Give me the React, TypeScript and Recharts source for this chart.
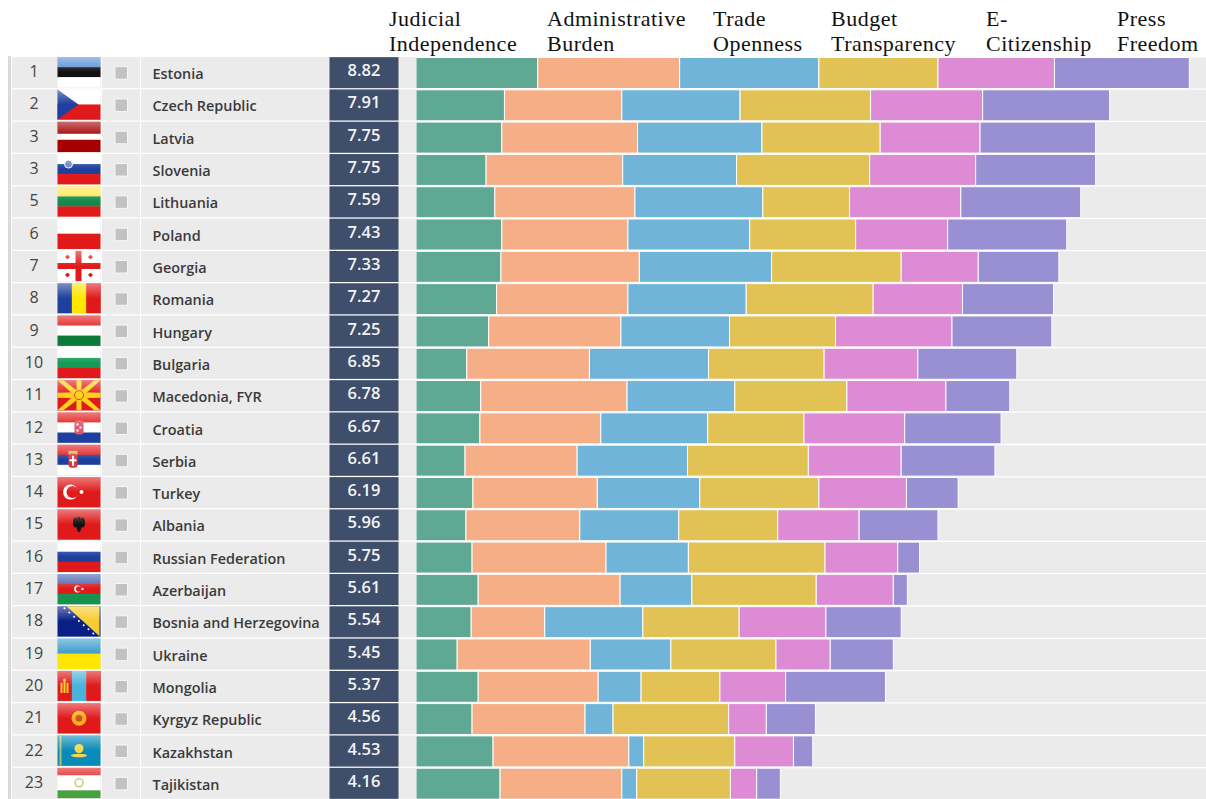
import { BarChart, Bar, XAxis, YAxis } from "recharts";

const countries = [
  "Estonia", "Czech Republic", "Latvia", "Slovenia", "Lithuania", "Poland", "Georgia", "Romania",
  "Hungary", "Bulgaria", "Macedonia, FYR", "Croatia", "Serbia", "Turkey", "Albania", "Russian Federation",
  "Azerbaijan", "Bosnia and Herzegovina", "Ukraine", "Mongolia", "Kyrgyz Republic", "Kazakhstan", "Tajikistan",
];
const ranks = [1, 2, 3, 3, 5, 6, 7, 8, 9, 10, 11, 12, 13, 14, 15, 16, 17, 18, 19, 20, 21, 22, 23];
const scores = [
  "8.82", "7.91", "7.75", "7.75", "7.59", "7.43", "7.33", "7.27", "7.25", "6.85", "6.78", "6.67",
  "6.61", "6.19", "5.96", "5.75", "5.61", "5.54", "5.45", "5.37", "4.56", "4.53", "4.16",
];

const judicial = [1.39, 1.01, 0.98, 0.8, 0.9, 0.98, 0.97, 0.92, 0.83, 0.58, 0.74, 0.73, 0.56, 0.65, 0.57, 0.64, 0.71, 0.63, 0.47, 0.71, 0.64, 0.88, 0.96];
const admin = [1.62, 1.34, 1.55, 1.56, 1.6, 1.44, 1.58, 1.5, 1.51, 1.4, 1.67, 1.38, 1.28, 1.42, 1.3, 1.53, 1.62, 0.84, 1.52, 1.37, 1.29, 1.55, 1.39];
const trade = [1.59, 1.35, 1.42, 1.3, 1.46, 1.39, 1.51, 1.35, 1.24, 1.36, 1.23, 1.22, 1.26, 1.17, 1.13, 0.94, 0.82, 1.12, 0.92, 0.49, 0.32, 0.17, 0.17];
const budget = [1.36, 1.49, 1.35, 1.52, 0.99, 1.21, 1.48, 1.45, 1.21, 1.32, 1.28, 1.1, 1.38, 1.36, 1.13, 1.56, 1.42, 1.1, 1.2, 0.9, 1.32, 1.04, 1.07];
const citizen = [1.33, 1.28, 1.14, 1.21, 1.27, 1.05, 0.88, 1.02, 1.33, 1.07, 1.13, 1.15, 1.06, 1.0, 0.93, 0.83, 0.88, 0.99, 0.62, 0.75, 0.43, 0.67, 0.3];
const press = [1.54, 1.45, 1.32, 1.37, 1.37, 1.36, 0.92, 1.04, 1.14, 1.13, 0.73, 1.1, 1.07, 0.59, 0.9, 0.25, 0.16, 0.86, 0.72, 1.14, 0.56, 0.22, 0.27];

const data = countries.map((name, i) => ({
  name,
  judicial: judicial[i],
  admin: admin[i],
  trade: trade[i],
  budget: budget[i],
  citizen: citizen[i],
  press: press[i],
}));

const RED = "#e01a1a";
const BLUE = "#1f3f9f";
const GREEN = "#138a4a";
const YELLOW = "#ffe600";

// stripes top to bottom, or left to right for the "v" ones
const flagStripes: Record<string, { dir: "h" | "v"; colors: string[] }> = {
  Estonia: { dir: "h", colors: ["#5b8dd6", "#111111", "#ffffff"] },
  "Czech Republic": { dir: "h", colors: ["#ffffff", RED] },
  Latvia: { dir: "h", colors: ["#a50000", "#a50000", "#ffffff", "#a50000", "#a50000"] },
  Slovenia: { dir: "h", colors: ["#ffffff", BLUE, RED] },
  Lithuania: { dir: "h", colors: ["#ffe94a", GREEN, RED] },
  Poland: { dir: "h", colors: ["#ffffff", RED] },
  Georgia: { dir: "h", colors: ["#ffffff"] },
  Romania: { dir: "v", colors: [BLUE, YELLOW, RED] },
  Hungary: { dir: "h", colors: [RED, "#ffffff", "#0c7a38"] },
  Bulgaria: { dir: "h", colors: ["#ffffff", "#159a5a", RED] },
  "Macedonia, FYR": { dir: "h", colors: [RED] },
  Croatia: { dir: "h", colors: [RED, "#ffffff", BLUE] },
  Serbia: { dir: "h", colors: [RED, BLUE, "#ffffff"] },
  Turkey: { dir: "h", colors: [RED] },
  Albania: { dir: "h", colors: [RED] },
  "Russian Federation": { dir: "h", colors: ["#ffffff", BLUE, RED] },
  Azerbaijan: { dir: "h", colors: ["#4a62b0", RED, "#16924f"] },
  "Bosnia and Herzegovina": { dir: "h", colors: ["#0a1f86"] },
  Ukraine: { dir: "h", colors: ["#3b9ccc", YELLOW] },
  Mongolia: { dir: "v", colors: [RED, "#48b4dc", RED] },
  "Kyrgyz Republic": { dir: "h", colors: [RED] },
  Kazakhstan: { dir: "h", colors: ["#0a8ab8"] },
  Tajikistan: { dir: "h", colors: [RED, "#ffffff", "#ffffff", "#48a23f"] },
};

function FlagEmblem({ name }: { name: string }) {
  // drawn in a 43 x 30 box
  switch (name) {
    case "Czech Republic":
      return <polygon points="0,0 21,15 0,30" fill={BLUE} />;
    case "Slovenia":
      return <circle cx={11} cy={10} r={4} fill="#6c80c4" stroke="#fff" strokeWidth={1} />;
    case "Georgia":
      return (
        <g fill={RED}>
          <rect x={18} y={0} width={6} height={30} />
          <rect x={0} y={12} width={43} height={6} />
          <rect x={8} y={5} width={4} height={2} />
          <rect x={9} y={4} width={2} height={4} />
          <rect x={31} y={5} width={4} height={2} />
          <rect x={32} y={4} width={2} height={4} />
          <rect x={8} y={23} width={4} height={2} />
          <rect x={9} y={22} width={2} height={4} />
          <rect x={31} y={23} width={4} height={2} />
          <rect x={32} y={22} width={2} height={4} />
        </g>
      );
    case "Macedonia, FYR":
      return (
        <g fill="#ffd21a">
          <polygon points="19,15 24,15 24,0 19,0" />
          <polygon points="19,15 24,15 24,30 19,30" />
          <polygon points="21,12 21,18 0,17.5 0,12.5" />
          <polygon points="22,12 22,18 43,17.5 43,12.5" />
          <polygon points="19,13 23,17 6,30 0,30" />
          <polygon points="24,13 20,17 37,30 43,30" />
          <polygon points="19,17 23,13 6,0 0,0" />
          <polygon points="24,17 20,13 37,0 43,0" />
          <circle cx={21.5} cy={15} r={4.5} stroke={RED} strokeWidth={0.8} />
        </g>
      );
    case "Croatia":
      return (
        <g>
          <rect x={17} y={8} width={9} height={14} rx={3} fill="#e0566a" />
          <rect x={19} y={11} width={2} height={2} fill="#fff" />
          <rect x={22} y={14} width={2} height={2} fill="#fff" />
          <rect x={19} y={17} width={2} height={2} fill="#fff" />
        </g>
      );
    case "Serbia":
      return (
        <g>
          <rect x={11} y={6} width={9} height={4} fill="#d8b45a" />
          <rect x={11} y={9} width={9} height={14} rx={3} fill="#d8383a" />
          <rect x={14.5} y={11} width={2} height={10} fill="#fff" />
          <rect x={12} y={14.5} width={7} height={2} fill="#fff" />
        </g>
      );
    case "Turkey":
      return (
        <g>
          <circle cx={13} cy={15} r={7.5} fill="#fff" />
          <circle cx={15} cy={15} r={6} fill={RED} />
          <circle cx={24} cy={15} r={2} fill="#fff" />
        </g>
      );
    case "Albania":
      return (
        <g fill="#111">
          <ellipse cx={21.5} cy={15} rx={2.5} ry={8} />
          <ellipse cx={18} cy={13} rx={2.5} ry={5} />
          <ellipse cx={25} cy={13} rx={2.5} ry={5} />
        </g>
      );
    case "Azerbaijan":
      return (
        <g>
          <circle cx={20} cy={15} r={3.4} fill="#fff" />
          <circle cx={21.2} cy={15} r={2.7} fill={RED} />
          <circle cx={25} cy={15} r={1.2} fill="#fff" />
        </g>
      );
    case "Bosnia and Herzegovina":
      return (
        <g>
          <polygon points="9,0 42,0 42,30" fill="#f7cc2e" />
          <g fill="#fff">
            {[0, 1, 2, 3, 4, 5, 6].map((n) => (
              <circle key={n} cx={7 + n * 4.8} cy={2 + n * 4.2} r={1} />
            ))}
          </g>
        </g>
      );
    case "Mongolia":
      return (
        <g fill="#f7cc2e">
          <rect x={3} y={12} width={2} height={10} />
          <rect x={9} y={12} width={2} height={10} />
          <rect x={6} y={10} width={2} height={12} />
          <circle cx={7} cy={9} r={1.5} />
        </g>
      );
    case "Kyrgyz Republic":
      return (
        <g>
          <circle cx={21.5} cy={15} r={7.5} fill="#f7b21e" />
          <circle cx={21.5} cy={15} r={3.5} fill="#d8501e" />
        </g>
      );
    case "Kazakhstan":
      return (
        <g fill="#f2d84a">
          <rect x={2} y={0} width={2} height={30} opacity={0.7} />
          <circle cx={21.5} cy={13} r={4.5} />
          <ellipse cx={21.5} cy={20} rx={8} ry={1.8} />
        </g>
      );
    case "Tajikistan":
      return <circle cx={21.5} cy={15} r={4} fill="none" stroke="#d8c27a" strokeWidth={1.5} />;
    default:
      return null;
  }
}

function Flag({ name, x, y }: { name: string; x: number; y: number }) {
  const { dir, colors } = flagStripes[name];
  const w = 43 / colors.length;
  const h = 30 / colors.length;
  return (
    <g transform={`translate(${x},${y})`}>
      {colors.map((c, i) =>
        dir === "h" ? (
          <rect key={i} x={0} y={i * h} width={43} height={h + 0.3} fill={c} />
        ) : (
          <rect key={i} x={i * w} y={0} width={w + 0.3} height={30} fill={c} />
        )
      )}
      <FlagEmblem name={name} />
      <rect x={0} y={0} width={43} height={30} fill="url(#flagGloss)" />
    </g>
  );
}

const LABEL_FONT = "'Open Sans', sans-serif";

// the whole left part of a row: rank, flag, checkbox, name, score box
function RowTick({ y, payload, index }: any) {
  const i = index ?? countries.indexOf(payload.value);
  const top = y - 15.5;
  return (
    <g>
      {i === 0 && (
        <defs>
          <linearGradient id="flagGloss" x1="0" y1="0" x2="0" y2="1">
            <stop offset="0%" stopColor="#fff" stopOpacity={0.42} />
            <stop offset="35%" stopColor="#fff" stopOpacity={0.12} />
            <stop offset="50%" stopColor="#fff" stopOpacity={0} />
          </linearGradient>
        </defs>
      )}
      <rect x={8} y={top - 1} width={3} height={33} fill="#d9d9d9" />
      <rect x={12} y={top} width={404} height={31} fill="#ebebeb" />
      <rect x={101} y={top} width={1} height={31} fill="#fff" />
      <rect x={140} y={top} width={1} height={31} fill="#fff" />
      <text x={34} y={y + 4.5} textAnchor="middle" fontFamily={LABEL_FONT} fontSize={16} fill="#444">
        {ranks[i]}
      </text>
      <Flag name={payload.value} x={57.5} y={top} />
      <rect x={115} y={y - 6} width={12.5} height={12.5} fill="#c2c2c2" stroke="#f6f6f6" strokeWidth={1} />
      <text x={152.5} y={y + 6.5} fontFamily={LABEL_FONT} fontWeight={600} fontSize={14.4} fill="#3a3a3a">
        {payload.value}
      </text>
      <rect x={329.5} y={top} width={69} height={31} fill="#3e4e6b" />
      <text x={364} y={y + 3.5} textAnchor="middle" fontFamily={LABEL_FONT} fontWeight={600} fontSize={16.5} fill="#f4f4f4">
        {scores[i]}
      </text>
    </g>
  );
}

const headers = [
  { left: 389, lines: ["Judicial", "Independence"] },
  { left: 547, lines: ["Administrative", "Burden"] },
  { left: 713, lines: ["Trade", "Openness"] },
  { left: 831, lines: ["Budget", "Transparency"] },
  { left: 986, lines: ["E-", "Citizenship"] },
  { left: 1117, lines: ["Press", "Freedom"] },
];

export default function App() {
  const stroke = { stroke: "#fff", strokeWidth: 1 };
  return (
    <div style={{ position: "absolute", left: 0, top: 0, width: 1206, height: 799, overflow: "hidden", background: "#fff" }}>
      {headers.map((h) => (
        <div
          key={h.left}
          style={{
            position: "absolute",
            left: h.left,
            top: 6,
            fontFamily: "'Liberation Serif', serif",
            fontSize: 22,
            letterSpacing: 0.5,
            lineHeight: "25px",
            color: "#111",
            whiteSpace: "nowrap",
          }}
        >
          {h.lines.map((l) => (
            <div key={l}>{l}</div>
          ))}
        </div>
      ))}
      <BarChart
        width={1206}
        height={799.5}
        data={data}
        layout="vertical"
        barSize={31}
        margin={{ top: 56.5, right: 0, bottom: 0, left: 0 }}
      >
        <XAxis type="number" hide domain={[0, 9.02]} allowDataOverflow />
        <YAxis
          type="category"
          dataKey="name"
          width={416}
          interval={0}
          axisLine={false}
          tickLine={false}
          tick={RowTick}
        />
        <Bar dataKey="judicial" stackId="a" fill="#5fa894" background={{ fill: "#ebebeb" }} isAnimationActive={false} {...stroke} />
        <Bar dataKey="admin" stackId="a" fill="#f5ae85" isAnimationActive={false} {...stroke} />
        <Bar dataKey="trade" stackId="a" fill="#70b5d9" isAnimationActive={false} {...stroke} />
        <Bar dataKey="budget" stackId="a" fill="#e2c255" isAnimationActive={false} {...stroke} />
        <Bar dataKey="citizen" stackId="a" fill="#de8bd5" isAnimationActive={false} {...stroke} />
        <Bar dataKey="press" stackId="a" fill="#998fd3" isAnimationActive={false} {...stroke} />
      </BarChart>
    </div>
  );
}
